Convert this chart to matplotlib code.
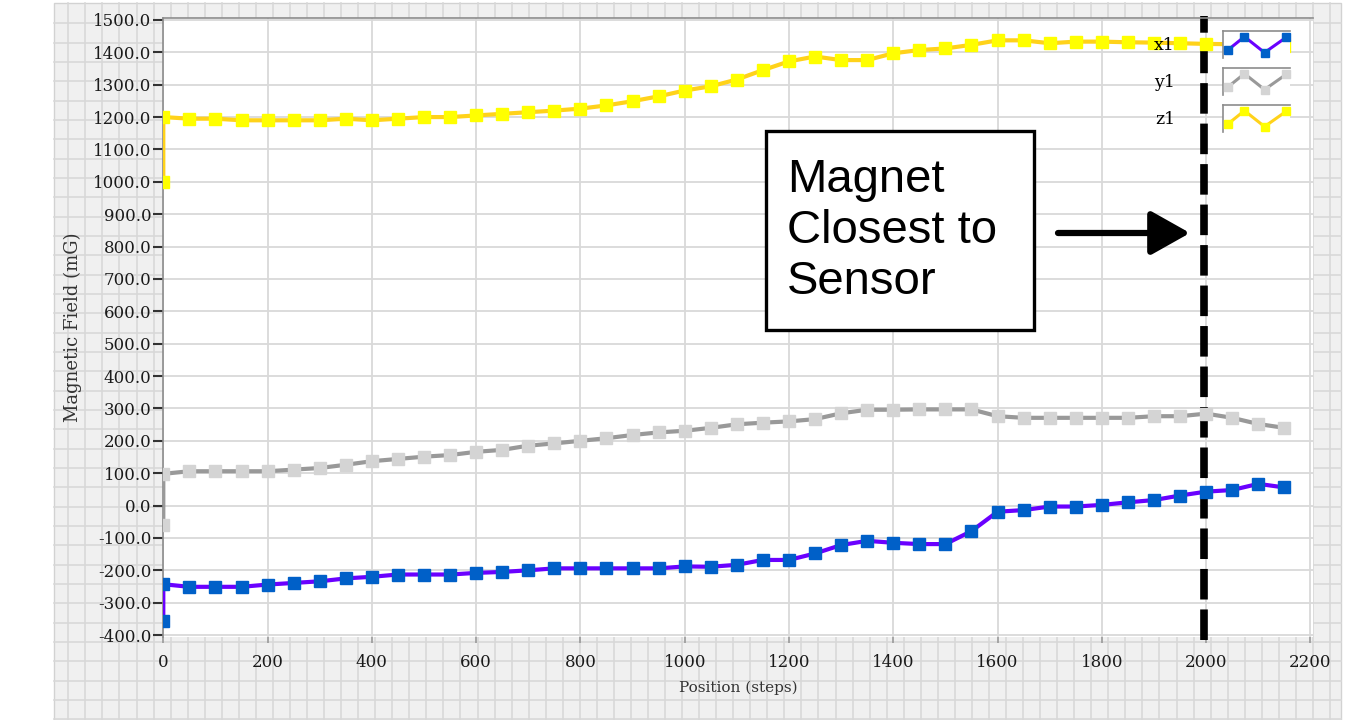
import numpy as np
import matplotlib
matplotlib.use("Agg")
import matplotlib.pyplot as plt
from matplotlib.patches import Rectangle
from matplotlib.lines import Line2D
from matplotlib.legend_handler import HandlerBase
from matplotlib.ticker import FormatStrFormatter, MultipleLocator

# position of the sensor (steps); first two samples are both taken at step 0
steps = [0, 0, 50, 100, 150, 200, 250, 300, 350, 400, 450, 500, 550, 600, 650,
         700, 750, 800, 850, 900, 950, 1000, 1050, 1100, 1150, 1200, 1250, 1300,
         1350, 1400, 1450, 1500, 1550, 1600, 1650, 1700, 1750, 1800, 1850, 1900,
         1950, 2000, 2050, 2100, 2150]

# magnetic field components (mG)
x1 = [-357, -243, -251, -251, -251, -244, -239, -234, -225, -220, -213, -213,
      -213, -208, -205, -200, -194, -194, -194, -194, -194, -188, -189, -183,
      -168, -168, -148, -122, -109, -115, -119, -119, -79, -19, -14, -3, -3,
      2, 10, 17, 31, 43, 48, 67, 56]
y1 = [-60, 98, 106, 106, 106, 106, 111, 116, 126, 137, 144, 151, 156, 166,
      172, 185, 192, 200, 208, 218, 226, 231, 240, 251, 256, 260, 267, 285,
      296, 296, 297, 297, 297, 276, 271, 271, 271, 271, 271, 276, 276, 284,
      271, 252, 240]
z1 = [1000, 1200, 1195, 1195, 1190, 1190, 1190, 1190, 1195, 1190, 1195, 1200,
      1200, 1205, 1210, 1215, 1220, 1226, 1236, 1249, 1264, 1282, 1295, 1316,
      1345, 1372, 1387, 1376, 1376, 1397, 1407, 1412, 1423, 1437, 1437, 1428,
      1433, 1433, 1431, 1430, 1428, 1426, 1425, 1425, 1420]

magnet_step = 1995

W, H = 1351, 720
SERIF = "DejaVu Serif"


def fx(px):
    return px / W


def fy(py):
    return 1 - py / H


class ZigzagIcon(HandlerBase):
    """LabVIEW style plot legend icon: small box with a zigzag trace"""
    def create_artists(self, legend, orig_handle, xdescent, ydescent,
                       width, height, fontsize, trans):
        x0, y0 = -xdescent, -ydescent
        box = Rectangle((x0, y0), width, height, fc="white", ec="none",
                        transform=trans)
        top = Line2D([x0, x0 + width], [y0 + height] * 2, color="#8c8c8c",
                     lw=1.2, transform=trans)
        left = Line2D([x0, x0], [y0, y0 + height], color="#8c8c8c",
                      lw=1.2, transform=trans)
        xs = x0 + width * np.array([0.07, 0.32, 0.62, 0.94])
        ys = y0 + height * np.array([0.29, 0.79, 0.2, 0.76])
        zig = Line2D(xs, ys, color=orig_handle.get_color(), lw=2.2,
                     marker="s", markersize=6,
                     markerfacecolor=orig_handle.get_markerfacecolor(),
                     markeredgecolor=orig_handle.get_markerfacecolor(),
                     transform=trans)
        return [box, top, left, zig]


fig = plt.figure(figsize=(W / 100, H / 100), dpi=100)
fig.patch.set_facecolor("white")

# grey graph frame with its own grid
fig.add_artist(Rectangle((fx(54), fy(720)), (1341 - 54) / W, (720 - 3) / H,
                         transform=fig.transFigure, fc="#f0f0f0",
                         ec="#d2d2d2", lw=1, zorder=-10))
gx = 68.3
while gx < 1341:
    fig.add_artist(Line2D([fx(gx)] * 2, [fy(3), fy(720)], color="#d8d8d8",
                          lw=1.2, transform=fig.transFigure, zorder=-9))
    gx += 17.05
gy = 23.3
while gy < 720:
    fig.add_artist(Line2D([fx(54), fx(1341)], [fy(gy)] * 2, color="#d8d8d8",
                          lw=1.2, transform=fig.transFigure, zorder=-9))
    gy += 19.33

ax = fig.add_axes([fx(163.3), fy(637), (1313 - 163.3) / W, (637 - 18) / H])
ax.set_facecolor("white")

lx, = ax.plot(steps, x1, color="#6a00ff", lw=3, marker="s", markersize=8.5,
              markerfacecolor="#0060c8", markeredgecolor="#0060c8", zorder=3)
ly, = ax.plot(steps, y1, color="#999999", lw=3, marker="s", markersize=8.5,
              markerfacecolor="#d4d4d4", markeredgecolor="#d4d4d4", zorder=3)
lz, = ax.plot(steps, z1, color="#ffd21a", lw=3, marker="s", markersize=8.5,
              markerfacecolor="#ffff00", markeredgecolor="#ffff00", zorder=3)

ax.axvline(magnet_step, ymin=-0.005, ymax=1.003, color="black", lw=5.5,
           dashes=(4, 1.3), clip_on=False, zorder=2)

ax.set_xlim(0, 2205)
ax.set_ylim(-406, 1506)
ax.xaxis.set_major_locator(MultipleLocator(200))
ax.yaxis.set_major_locator(MultipleLocator(100))
ax.yaxis.set_major_formatter(FormatStrFormatter("%.1f"))
ax.grid(True, color="#d9d9d9", lw=1.3, zorder=0)
ax.set_axisbelow(True)

for s in ["right", "bottom"]:
    ax.spines[s].set_visible(False)
for s in ["left", "top"]:
    ax.spines[s].set_color("#8c8c8c")
    ax.spines[s].set_linewidth(1.2)

ax.tick_params(axis="y", direction="out", length=7, width=1.5, color="#333333",
               pad=1.5, labelsize=12, labelcolor="#1a1a1a")
ax.tick_params(axis="x", direction="out", length=4.5, width=1.2, color="#999999",
               pad=7.5, labelsize=12, labelcolor="#1a1a1a")
for lab in ax.get_xticklabels() + ax.get_yticklabels():
    lab.set_family(SERIF)

ax.set_xlabel("Position (steps)", family=SERIF, fontsize=11, color="#333333",
              va="top")
ax.xaxis.set_label_coords(0.5, -0.07)
ax.set_ylabel("Magnetic Field (mG)", family=SERIF, fontsize=13,
              color="#333333")
ax.yaxis.set_label_coords(-0.0707, 0.5)

fs = 12.5
em = fs * 100 / 72
ax.legend([lx, ly, lz], ["x1", "y1", "z1"], handler_map={Line2D: ZigzagIcon()},
          loc="upper right", bbox_to_anchor=(fx(1290), fy(31)),
          bbox_transform=fig.transFigure, frameon=False, markerfirst=False,
          borderpad=0, borderaxespad=0,
          prop={"family": SERIF, "size": fs},
          handlelength=67 / em, handleheight=((27 / em) - 0.245) / 0.65,
          labelspacing=10 / em, handletextpad=48 / em)

# callout box and arrow
fig.add_artist(Rectangle((fx(766), fy(330)), (1034 - 766) / W, (330 - 131) / H,
                         transform=fig.transFigure, fc="white", ec="black",
                         lw=2.4, zorder=10))
fig.text(fx(787), fy(231), "Magnet\nClosest to\nSensor", ha="left", va="center",
         fontsize=34, family="Liberation Sans", color="black", zorder=11,
         linespacing=1.2)
ax.annotate("", xy=(fx(1190), fy(233)), xytext=(fx(1058), fy(233)),
            xycoords="figure fraction", textcoords="figure fraction",
            arrowprops=dict(arrowstyle="-|>,head_length=0.8,head_width=0.45",
                            mutation_scale=30, lw=4.5, color="black",
                            shrinkA=0, shrinkB=0), zorder=12)

fig.savefig("out.png", dpi=100)
